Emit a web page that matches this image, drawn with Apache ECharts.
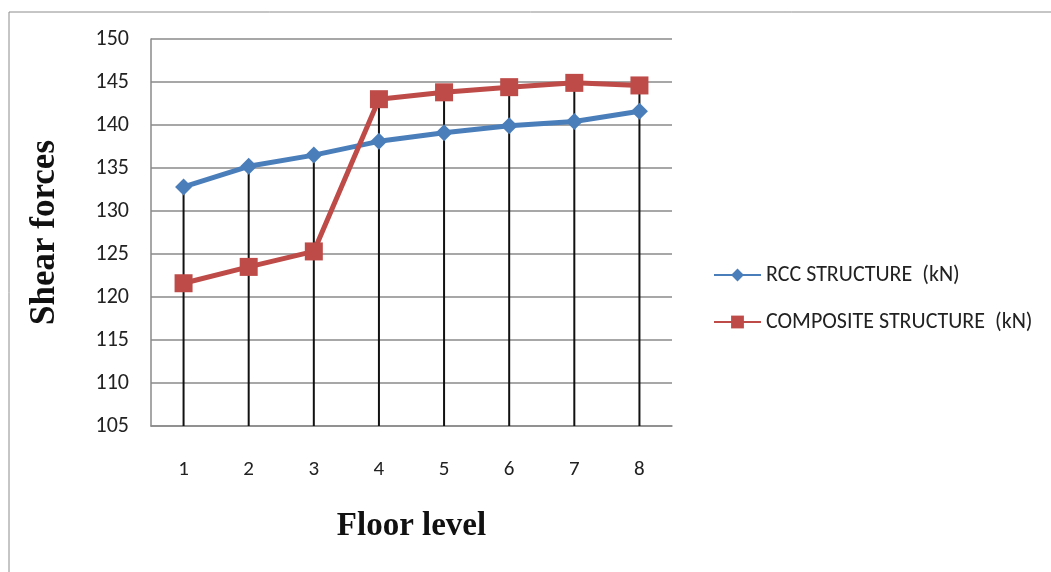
<!DOCTYPE html>
<html>
<head>
<meta charset="utf-8">
<script src="https://cdn.jsdelivr.net/npm/echarts@6/dist/echarts.min.js"></script>
<style>
  html, body { margin: 0; padding: 0; background: #fff; }
  #main { width: 1051px; height: 572px; }
</style>
</head>
<body>
<div id="main"></div>
<script>
// floors
var floors = ['1', '2', '3', '4', '5', '6', '7', '8'];
// shear forces (kN)
var rccValues = [132.8, 135.2, 136.5, 138.1, 139.1, 139.9, 140.4, 141.6];
var compositeValues = [121.6, 123.5, 125.3, 143.0, 143.8, 144.4, 144.9, 144.6];
var seriesNames = ['RCC STRUCTURE  (kN)', 'COMPOSITE STRUCTURE  (kN)'];

// drop lines go from the higher point down to the axis
var dropLines = rccValues.map(function (v, i) {
  return Math.max(v, compositeValues[i]);
});

var labelFont = 'Carlito, Lato, "Open Sans", sans-serif';
var titleFont = '"Liberation Serif", "DejaVu Serif", serif';

var myChart = echarts.init(document.getElementById('main'));
myChart.setOption({
  animation: false,
  backgroundColor: '#fff',
  graphic: [{
    type: 'rect',
    shape: { x: 9, y: 12, width: 1100, height: 600 },
    style: { fill: 'none', stroke: '#8c8c8c', lineWidth: 1 },
    silent: true
  }],
  grid: { left: 151, right: 379, top: 39, bottom: 146 },
  legend: {
    data: seriesNames,
    orient: 'vertical',
    left: 708,
    top: 259,
    itemWidth: 47,
    itemHeight: 16,
    itemGap: 25,
    textStyle: { fontFamily: labelFont, fontSize: 22, color: '#222' }
  },
  xAxis: {
    type: 'category',
    data: floors,
    boundaryGap: true,
    name: 'Floor level',
    nameLocation: 'middle',
    nameGap: 84,
    nameTextStyle: { fontFamily: titleFont, fontWeight: 'bold', fontSize: 33, color: '#111' },
    axisLine: { lineStyle: { color: '#8a8a8a', width: 1.5 } },
    axisTick: { show: false },
    axisLabel: { margin: 33, fontFamily: labelFont, fontSize: 21, color: '#222' }
  },
  yAxis: {
    type: 'value',
    min: 105,
    max: 150,
    interval: 5,
    name: 'Shear forces',
    nameLocation: 'middle',
    nameGap: 89,
    nameTextStyle: { fontFamily: titleFont, fontWeight: 'bold', fontSize: 35, color: '#111' },
    axisLine: { show: true, lineStyle: { color: '#8a8a8a', width: 1.5 } },
    axisTick: { show: false },
    axisLabel: { margin: 22, fontFamily: labelFont, fontSize: 22, color: '#222' },
    splitLine: { lineStyle: { color: '#8a8a8a', width: 1.5 } }
  },
  series: [
    {
      name: 'drop',
      type: 'bar',
      data: dropLines,
      barWidth: 2,
      itemStyle: { color: '#111' },
      silent: true,
      z: 1
    },
    {
      name: seriesNames[0],
      type: 'line',
      data: rccValues,
      symbol: 'diamond',
      symbolSize: 17,
      lineStyle: { color: '#4a7ebb', width: 5 },
      itemStyle: { color: '#4a7ebb' },
      z: 3
    },
    {
      name: seriesNames[1],
      type: 'line',
      data: compositeValues,
      symbol: 'rect',
      symbolSize: 18,
      lineStyle: { color: '#be4b48', width: 5 },
      itemStyle: { color: '#be4b48' },
      z: 4
    }
  ]
});
</script>
</body>
</html>
